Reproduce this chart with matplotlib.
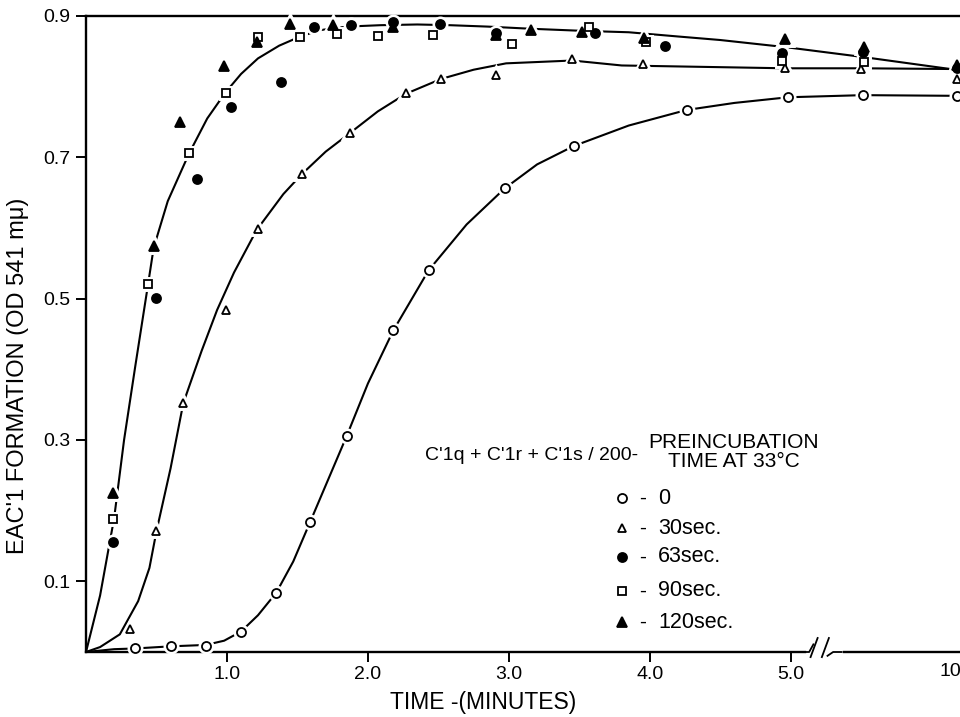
import matplotlib
matplotlib.use('Agg')
import matplotlib.pyplot as plt
from matplotlib.transforms import blended_transform_factory

plt.rcParams['font.family'] = ['Liberation Sans', 'DejaVu Sans']

# measured points, time in minutes (the last column is the 10 min reading,
# drawn after the axis break at position 6.18)
t0_x = [0.35, 0.60, 0.85, 1.10, 1.35, 1.59, 1.85, 2.18, 2.43, 2.97, 3.46, 4.26, 4.98, 5.51, 6.18]
t0_y = [0.005, 0.008, 0.009, 0.029, 0.084, 0.184, 0.306, 0.455, 0.540, 0.656, 0.716, 0.767, 0.785, 0.788, 0.787]

t30_x = [0.31, 0.50, 0.69, 0.99, 1.22, 1.53, 1.87, 2.27, 2.52, 2.91, 3.45, 3.95, 4.96, 5.50, 6.18]
t30_y = [0.032, 0.171, 0.352, 0.484, 0.599, 0.676, 0.734, 0.791, 0.811, 0.816, 0.839, 0.832, 0.826, 0.825, 0.811]

t63_x = [0.19, 0.50, 0.79, 1.03, 1.38, 1.62, 1.88, 2.18, 2.51, 2.91, 3.61, 4.11, 4.94, 5.51, 6.18]
t63_y = [0.155, 0.501, 0.670, 0.771, 0.806, 0.884, 0.887, 0.892, 0.889, 0.876, 0.876, 0.857, 0.848, 0.849, 0.826]

t90_x = [0.19, 0.44, 0.73, 0.99, 1.22, 1.52, 1.78, 2.07, 2.46, 3.02, 3.57, 3.97, 4.94, 5.52]
t90_y = [0.188, 0.521, 0.706, 0.791, 0.870, 0.870, 0.874, 0.872, 0.873, 0.860, 0.884, 0.863, 0.836, 0.835]

t120_x = [0.19, 0.48, 0.67, 0.98, 1.21, 1.45, 1.75, 2.18, 2.91, 3.16, 3.52, 3.96, 4.96, 5.52, 6.18]
t120_y = [0.225, 0.575, 0.750, 0.829, 0.863, 0.889, 0.887, 0.885, 0.873, 0.880, 0.878, 0.869, 0.867, 0.856, 0.830]

# hand drawn curves
c_fast_x = [0, 0.10, 0.20, 0.27, 0.35, 0.44, 0.48, 0.58, 0.73, 0.86, 0.99, 1.10, 1.22, 1.37, 1.52, 1.66,
            1.85, 2.09, 2.35, 2.58, 2.85, 3.15, 3.52, 3.85, 4.20, 4.50, 4.96, 5.51, 6.13]
c_fast_y = [0, 0.08, 0.19, 0.30, 0.405, 0.52, 0.572, 0.638, 0.705, 0.755, 0.792, 0.818, 0.840, 0.858, 0.871, 0.880,
            0.885, 0.887, 0.888, 0.887, 0.885, 0.882, 0.879, 0.877, 0.871, 0.866, 0.856, 0.842, 0.825]

c30_x = [0, 0.10, 0.24, 0.37, 0.45, 0.50, 0.60, 0.69, 0.82, 0.93, 1.05, 1.21, 1.40, 1.53, 1.70, 1.87,
         2.07, 2.27, 2.52, 2.75, 2.98, 3.45, 3.80, 4.96, 5.50, 6.13]
c30_y = [0, 0.007, 0.025, 0.072, 0.119, 0.171, 0.26, 0.352, 0.426, 0.484, 0.537, 0.597, 0.648, 0.676, 0.708, 0.734,
         0.765, 0.790, 0.811, 0.824, 0.833, 0.837, 0.830, 0.826, 0.826, 0.825]

c0_x = [0, 0.2, 0.35, 0.60, 0.85, 0.98, 1.10, 1.22, 1.35, 1.47, 1.59, 1.72, 1.85, 2.0, 2.18, 2.43,
        2.70, 2.97, 3.20, 3.46, 3.85, 4.26, 4.60, 4.98, 5.51, 6.2]
c0_y = [0, 0.004, 0.005, 0.008, 0.010, 0.016, 0.029, 0.052, 0.084, 0.128, 0.184, 0.245, 0.306, 0.38, 0.455, 0.540,
        0.605, 0.656, 0.690, 0.716, 0.745, 0.767, 0.777, 0.785, 0.788, 0.787]

xticks = [1, 2, 3, 4, 5]
xtick_labels = ['1.0', '2.0', '3.0', '4.0', '5.0']
yticks = [0.1, 0.3, 0.5, 0.7, 0.9]
ytick_labels = ['0.1', '0.3', '0.5', '0.7', '0.9']

legend_labels = ['0', '30sec.', '63sec.', '90sec.', '120sec.']

fig = plt.figure(figsize=(9.6, 7.17), dpi=100)
ax = fig.add_axes([86/960., 1-652/717., 874/960., 636/717.])
ax.set_xlim(0, 6.2)
ax.set_ylim(0, 0.9)

# curves
for cx, cy in [(c_fast_x, c_fast_y), (c30_x, c30_y), (c0_x, c0_y)]:
    ax.plot(cx, cy, color='black', lw=1.5, zorder=2, solid_capstyle='round', solid_joinstyle='round')

series = [(t0_x, t0_y, 'o', 'white', 6.5),
          (t30_x, t30_y, '^', 'white', 6),
          (t63_x, t63_y, 'o', 'black', 6.5),
          (t90_x, t90_y, 's', 'white', 5.5),
          (t120_x, t120_y, '^', 'black', 6.5)]

# white halo first so the curve breaks around the symbols
for sx, sy, m, fc, ms in series:
    ax.plot(sx, sy, ls='none', marker=m, ms=ms, mfc='white', mec='white', mew=5, zorder=3, clip_on=False)
for sx, sy, m, fc, ms in series:
    ax.plot(sx, sy, ls='none', marker=m, ms=ms, mfc=fc, mec='black', mew=1.3, zorder=4, clip_on=False)

# axes look
for s in ['left', 'bottom', 'top']:
    ax.spines[s].set_linewidth(1.7)
ax.spines['right'].set_visible(False)
ax.set_xticks(xticks)
ax.set_xticklabels(xtick_labels)
ax.set_yticks(yticks)
ax.set_yticklabels(ytick_labels)
ax.tick_params(axis='both', direction='out', length=7, width=1.4, labelsize=14, pad=4)
ax.tick_params(axis='x', pad=3)

fig.text(950/960., 1-672/717., '10', fontsize=14, ha='center', va='center')

fig.text(483/960., 1-702/717., 'TIME -(MINUTES)', fontsize=16.5, ha='center', va='center')
fig.text(18/960., 1-376/717., "EAC'1 FORMATION (OD 541 m\u03bc)", fontsize=17, rotation=90,
         ha='center', va='center')

# axis break after 5.0
tr = blended_transform_factory(ax.transData, ax.transAxes)
ax.plot([5.13, 5.35], [0, 0], color='white', lw=4, transform=tr, clip_on=False, zorder=5)
ax.plot([5.08, 5.13, 5.16], [0, 0.0, 0.012], color='black', lw=1.3, transform=tr, clip_on=False, zorder=6)
ax.plot([5.14, 5.19], [-0.008, 0.022], color='black', lw=1.3, transform=tr, clip_on=False, zorder=6)
ax.plot([5.22, 5.27], [-0.008, 0.022], color='black', lw=1.3, transform=tr, clip_on=False, zorder=6)
ax.plot([5.26, 5.30, 5.36], [-0.006, 0.0, 0.0], color='black', lw=1.3, transform=tr, clip_on=False, zorder=6)

# key
fig.text(425/960., 1-455/717., "C'1q + C'1r + C'1s / 200-", fontsize=14, ha='left', va='center')
fig.text(734/960., 1-452/717., 'PREINCUBATION\nTIME AT 33\u00b0C', fontsize=15, ha='center', va='center',
         linespacing=1.0)
key_y = [498, 528, 557, 591, 622]
for i, (sx, sy, m, fc, ms) in enumerate(series):
    yy = 1 - key_y[i]/717.
    ax.plot([622/960.], [yy], ls='none', marker=m, ms=ms, mfc=fc, mec='black', mew=1.3,
            transform=fig.transFigure, clip_on=False)
    fig.text(643/960., yy, '-', fontsize=15, ha='center', va='center')
    fig.text(658/960., yy, legend_labels[i], fontsize=15.5, ha='left', va='center')

fig.savefig('out.png', dpi=100)
